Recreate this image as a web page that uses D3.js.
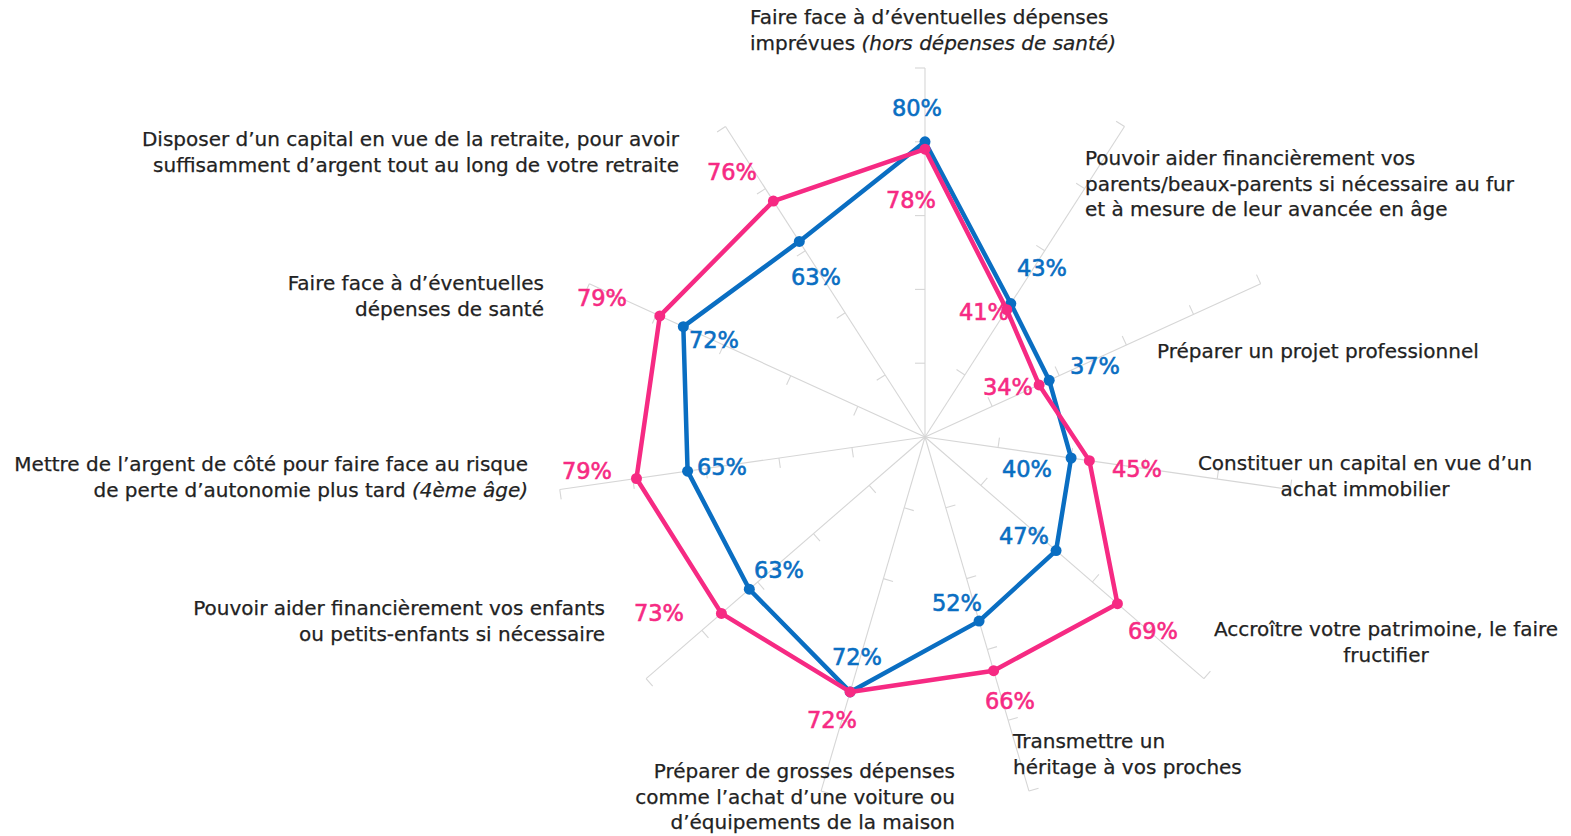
<!DOCTYPE html>
<html><head><meta charset="utf-8">
<script src="https://cdn.jsdelivr.net/npm/d3@7"></script>
<style>
html,body{margin:0;padding:0;background:#fff;}
svg{display:block;}
text{font-family:"DejaVu Sans",sans-serif;}
</style></head>
<body><svg id="c" width="1571" height="836"></svg>
<script>
// ---- data ----
const categories = [
  ["Faire face à d’éventuelles dépenses", "imprévues |(hors dépenses de santé)"],
  ["Pouvoir aider financièrement vos", "parents/beaux-parents si nécessaire au fur", "et à mesure de leur avancée en âge"],
  ["Préparer un projet professionnel"],
  ["Constituer un capital en vue d’un", "achat immobilier"],
  ["Accroître votre patrimoine, le faire", "fructifier"],
  ["Transmettre un", "héritage à vos proches"],
  ["Préparer de grosses dépenses", "comme l’achat d’une voiture ou", "d’équipements de la maison"],
  ["Pouvoir aider financièrement vos enfants", "ou petits-enfants si nécessaire"],
  ["Mettre de l’argent de côté pour faire face au risque", "de perte d’autonomie plus tard |(4ème âge)"],
  ["Faire face à d’éventuelles", "dépenses de santé"],
  ["Disposer d’un capital en vue de la retraite, pour avoir", "suffisamment d’argent tout au long de votre retraite"]
];
const blueValues = [80, 43, 37, 40, 47, 52, 72, 63, 65, 72, 63];
const pinkValues = [78, 41, 34, 45, 69, 66, 72, 73, 79, 79, 76];
const tickValues = [20, 40, 60, 80, 100];

// ---- layout ----
const cx = 925, cy = 437, R = 369;
const blueColor = "#0a6ec2", pinkColor = "#f62a83", axisColor = "#d6d6d6", textColor = "#222";
// category label placement: [x, y of first line centre, anchor]
const labelPos = [
  [750, 17, "start"], [1085, 158, "start"], [1157, 351, "start"], [1365, 463, "middle"],
  [1386, 629, "middle"], [1013, 741, "start"], [955, 771, "end"], [605, 608, "end"],
  [528, 464, "end"], [544, 283, "end"], [679, 139, "end"]
];
// value label centres
const bluePos = [[917,108],[1042,268],[1095,366],[1027,469],[1024,536],[957,603],[857,657],[779,570],[722,467],[714,340],[816,277]];
const pinkPos = [[911,200],[984,312],[1008,387],[1137,469],[1153,631],[1010,701],[832,720],[659,613],[587,471],[602,298],[732,172]];

const svg = d3.select("#c");
const n = categories.length;
const angle = d3.scaleLinear().domain([0, n]).range([0, 2 * Math.PI]);
const r = d3.scaleLinear().domain([0, 100]).range([0, R]);
const pt = (i, v) => [cx + Math.sin(angle(i)) * r(v), cy - Math.cos(angle(i)) * r(v)];

// axes
const gAx = svg.append("g").attr("stroke", axisColor).attr("stroke-width", 1.1).attr("fill", "none");
d3.range(n).forEach(i => {
  const [x1, y1] = pt(i, 100);
  gAx.append("line").attr("x1", cx).attr("y1", cy).attr("x2", x1).attr("y2", y1);
  const a = angle(i);
  const px = -Math.cos(a), py = -Math.sin(a);
  const tl = 10;
  tickValues.forEach(t => {
    const [tx, ty] = pt(i, t);
    gAx.append("line").attr("x1", tx).attr("y1", ty).attr("x2", tx + px * tl).attr("y2", ty + py * tl);
  });
});

// series
const line = d3.line().curve(d3.curveLinearClosed);
function drawSeries(vals, color) {
  const pts = vals.map((v, i) => pt(i, v));
  svg.append("path").attr("d", line(pts)).attr("fill", "none").attr("stroke", color)
    .attr("stroke-width", 4.5).attr("stroke-linejoin", "round");
  svg.append("g").selectAll("circle").data(pts).join("circle")
    .attr("cx", d => d[0]).attr("cy", d => d[1]).attr("r", 5.5).attr("fill", color);
}
drawSeries(blueValues, blueColor);
drawSeries(pinkValues, pinkColor);

// value labels
function drawVals(vals, pos, color) {
  svg.append("g").selectAll("text").data(vals).join("text")
    .attr("x", (d, i) => pos[i][0]).attr("y", (d, i) => pos[i][1])
    .attr("text-anchor", "middle").attr("dominant-baseline", "central")
    .attr("font-size", 22.5).attr("fill", color)
    .attr("stroke", color).attr("stroke-width", 0.6)
    .text(d => d + "%");
}
drawVals(blueValues, bluePos, blueColor);
drawVals(pinkValues, pinkPos, pinkColor);

// category labels
categories.forEach((lines, i) => {
  const [x, y, anchor] = labelPos[i];
  const t = svg.append("text").attr("text-anchor", anchor).attr("font-size", 20)
    .attr("fill", textColor).attr("stroke", textColor).attr("stroke-width", 0.25);
  lines.forEach((ln, k) => {
    const parts = ln.split("|");
    const ts = t.append("tspan").attr("x", x).attr("y", y + k * 25.5).attr("dominant-baseline", "central");
    ts.append("tspan").text(parts[0]);
    if (parts[1]) ts.append("tspan").attr("font-style", "italic").text(parts[1]);
  });
});
</script></body></html>
